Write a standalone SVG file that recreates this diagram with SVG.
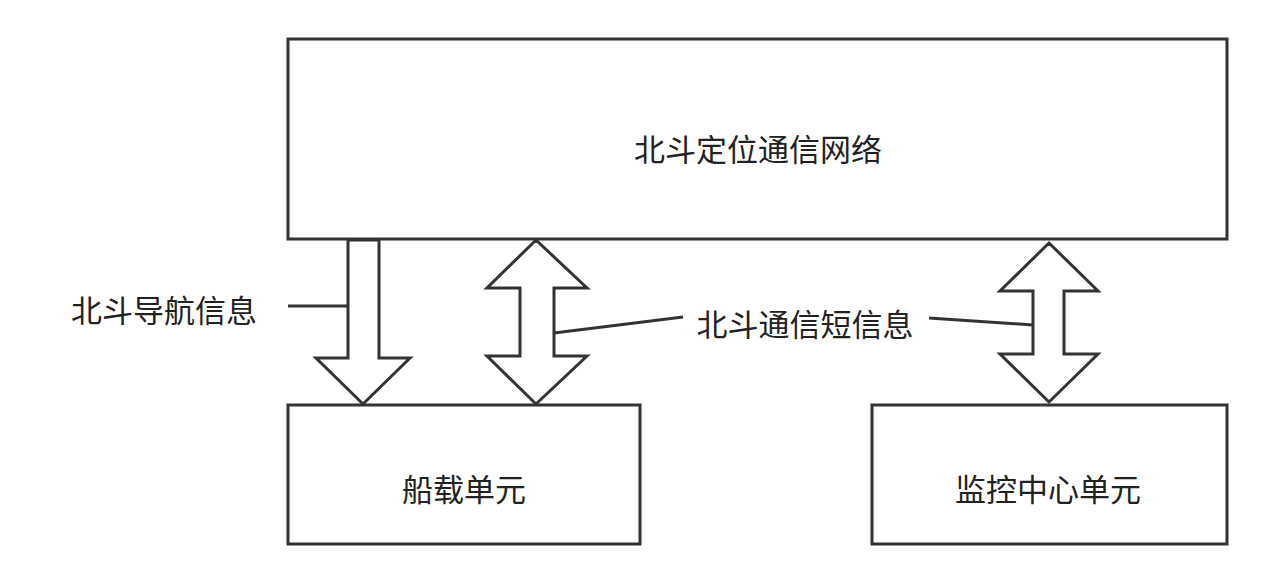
<svg xmlns="http://www.w3.org/2000/svg" width="1265" height="583" viewBox="0 0 1265 583">
<style>
.b{fill:#fff;stroke:#333;stroke-width:3}
.a{fill:#fff;stroke:#333;stroke-width:3;stroke-linejoin:miter}
.l{fill:none;stroke:#333;stroke-width:3}
text{font-family:"Noto Sans CJK SC","Noto Sans",sans-serif;font-size:31px;fill:#222;text-anchor:middle;dominant-baseline:central}
</style>
<rect width="1265" height="583" fill="#fff"/>
<g id="network"><rect class="b" x="288" y="39" width="939" height="200"/><text x="758" y="147">北斗定位通信网络</text></g>
<g id="ship"><rect class="b" x="288" y="405" width="352" height="139"/><text x="464" y="487">船载单元</text></g>
<g id="monitor"><rect class="b" x="872" y="405" width="355" height="139"/><text x="1048" y="487">监控中心单元</text></g>
<g id="connectors">
<polygon class="a" points="348,240 379,240 379,358 410,358 363,404 316,358 348,358"/>
<polygon class="a" points="536,240 587,288 554,288 554,356 587,356 536,404 487,356 520,356 520,288 487,288"/>
<polygon class="a" points="1049,243 1098,291 1064,291 1064,354 1098,354 1049,402 1000,354 1033,354 1033,291 1000,291"/>
<line class="l" x1="288" y1="306" x2="348" y2="306"/>
<line class="l" x1="554" y1="333" x2="683" y2="317"/>
<line class="l" x1="929" y1="318" x2="1033" y2="325"/>
</g>
<g id="labels"><text x="164" y="308">北斗导航信息</text><text x="805" y="322">北斗通信短信息</text></g>
</svg>
